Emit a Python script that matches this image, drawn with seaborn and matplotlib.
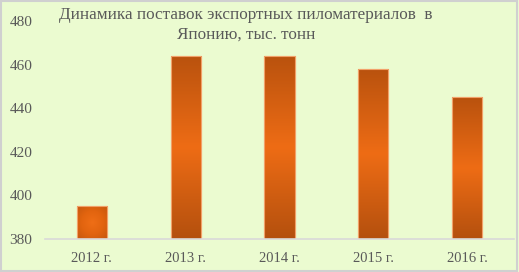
import numpy as np
import pandas as pd
import matplotlib
matplotlib.use("Agg")
import matplotlib.pyplot as plt
import seaborn as sns
from matplotlib.colors import LinearSegmentedColormap
from matplotlib.patches import Rectangle

years = ["2012 г.", "2013 г.", "2014 г.", "2015 г.", "2016 г."]
values = [395, 464, 464, 458, 445]
title = "Динамика поставок экспортных пиломатериалов  в\nЯпонию, тыс. тонн"
yticks = [380, 400, 420, 440, 460, 480]

bg = "#EBFBD0"
sns.set_theme(style="white")
plt.rcParams["font.family"] = ["Liberation Serif", "DejaVu Serif"]

fig = plt.figure(figsize=(5.19, 2.72), dpi=100, facecolor=bg)
ax = fig.add_axes([45/519, 1-239/272, (514-45)/519, (239-21)/272])
ax.set_facecolor(bg)

df = pd.DataFrame({"year": years, "value": values})
sns.barplot(data=df, x="year", y="value", ax=ax, color="#E0640F", width=0.32,
            edgecolor="#F2A16A", linewidth=0.8, zorder=2)
ax.set_xlabel("")
ax.set_ylabel("")
for s in ["left", "right", "top"]:
    ax.spines[s].set_visible(False)
ax.spines["bottom"].set_color("#D9D9D9")
ax.spines["bottom"].set_linewidth(1.2)
ax.spines["bottom"].set_zorder(4)
ax.tick_params(axis="both", length=0, colors="#595959", labelsize=10.5)
ax.tick_params(axis="y", pad=9, labelsize=11)
ax.tick_params(axis="x", pad=9)

cmap = LinearSegmentedColormap.from_list("g", ["#B4500E", "#EE6C15", "#B9520E"])
cmap_r = LinearSegmentedColormap.from_list("r", ["#EF6E16", "#E2640F", "#C4570E"])
for i, p in enumerate(ax.patches):
    x0, y0, w, h = p.get_x(), p.get_y(), p.get_width(), p.get_height()
    if i == 0:
        yy, xx = np.mgrid[-1:1:100j, -1:1:100j]
        r = np.sqrt(xx**2 + yy**2) / np.sqrt(2)
        im = ax.imshow(r, cmap=cmap_r, extent=[x0, x0+w, 380, y0+h], aspect="auto",
                       zorder=2.5, vmin=0, vmax=1)
    else:
        g = np.linspace(0, 1, 200).reshape(-1, 1)
        im = ax.imshow(g, cmap=cmap, extent=[x0, x0+w, 380, y0+h], aspect="auto",
                       zorder=2.5, origin="lower", vmin=0, vmax=1)
    im.set_clip_path(p)
    ax.add_patch(Rectangle((x0, y0), w, h, fill=False, edgecolor="#F2A16A",
                           linewidth=0.8, zorder=3))
ax.set_xlim(-0.5, 4.5)
ax.set_ylim(380, 480)
ax.set_yticks(yticks)

fig.text(246/519, 1-7/272, title, ha="center", va="top", fontsize=12.3,
         color="#595959", linespacing=1.32)

fig.add_artist(Rectangle((0.002, 0.003), 0.995, 0.993, transform=fig.transFigure,
                         fill=False, edgecolor="#D0D0D0", linewidth=1.5))
fig.savefig("out.png", dpi=100, facecolor=bg)
